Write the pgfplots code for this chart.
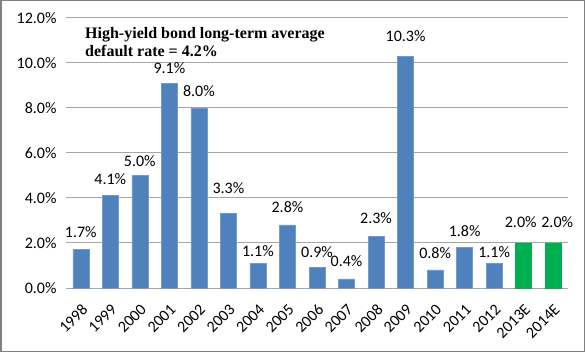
\documentclass[border=0pt]{standalone}
\usepackage{fontspec}
\setmainfont{Carlito}
\newfontfamily\titlefont{Liberation Serif}
\usepackage{pgfplots}
\usepackage{pgfplotstable}
\pgfplotsset{compat=1.18}
\definecolor{barblue}{HTML}{4F81BD}
\definecolor{bargreen}{HTML}{00B050}
\definecolor{gridgray}{HTML}{A6A6A6}
\definecolor{framegray}{HTML}{808080}

\pgfplotstableread{
x y off xoff
0 1.7 12 0
1 4.1 11 0
2 5.0 9 0
3 9.1 9 0
4 8.0 11 0
5 3.3 20 0
6 1.1 6 0
7 2.8 12 0
8 0.9 10 0
9 0.4 12 0
10 2.3 12 0
11 10.3 14 0
12 0.8 11 0
13 1.8 11 0
14 1.1 5 0
}\bluedata
\pgfplotstableread{
x y off xoff
15 2.0 15 -3
16 2.0 15 4
}\greendata

\begin{document}
\begin{tikzpicture}
\path[use as bounding box] (0,0) rectangle (585bp,352bp);
\draw[framegray, line width=1.5bp] (0.75bp,0.75bp) rectangle (584.25bp,351.25bp);
\begin{axis}[
  at={(66bp,64bp)}, anchor=south west,
  scale only axis, width=502bp, height=270bp,
  xmin=-0.5, xmax=16.5, ymin=0, ymax=12,
  ytick={0,2,...,12},
  xtick={0,...,16},
  xticklabels={1998,1999,2000,2001,2002,2003,2004,2005,2006,2007,2008,2009,2010,2011,2012,2013E,2014E},
  /pgf/number format/assume math mode=true,
  yticklabel={\pgfmathprintnumber[fixed,fixed zerofill,precision=1]{\tick}\%},
  ticklabel style={font=\fontsize{16bp}{19bp}\selectfont, text=black},
  x tick label style={xshift=0bp, yshift=-15bp, rotate=45, anchor=north east, inner sep=0pt},
  y tick label style={xshift=-6bp},
  major tick length=0pt,
  axis x line*=bottom, axis y line*=left,
  x axis line style={gridgray, line width=1bp, -},
  y axis line style={draw=none},
  ymajorgrids, major grid style={gridgray, line width=1bp},
  ybar, bar width=16bp, bar shift=0pt,
  point meta=y,
  visualization depends on={\thisrow{off} \as \labeloff},
  visualization depends on={\thisrow{xoff} \as \labelxoff},
  nodes near coords={\pgfmathprintnumber[fixed,fixed zerofill,precision=1]{\pgfplotspointmeta}\%},
  nodes near coords style={font=\fontsize{16bp}{19bp}\selectfont, text=black, anchor=south, inner sep=0pt, yshift=\labeloff, xshift=\labelxoff},
  clip=false,
]
\addplot[fill=barblue, draw=barblue!80!white, line width=0.5bp] table[x=x,y=y] {\bluedata};
\addplot[fill=bargreen, draw=bargreen, line width=0.5bp] table[x=x,y=y] {\greendata};
\node[anchor=north west, align=left, inner sep=0pt, font=\titlefont\bfseries\fontsize{16bp}{18bp}\selectfont]
  at ([xshift=19bp,yshift=-9bp]rel axis cs:0,1) {High-yield bond long-term average\\default rate = 4.2\%};
\end{axis}
\end{tikzpicture}
\end{document}
